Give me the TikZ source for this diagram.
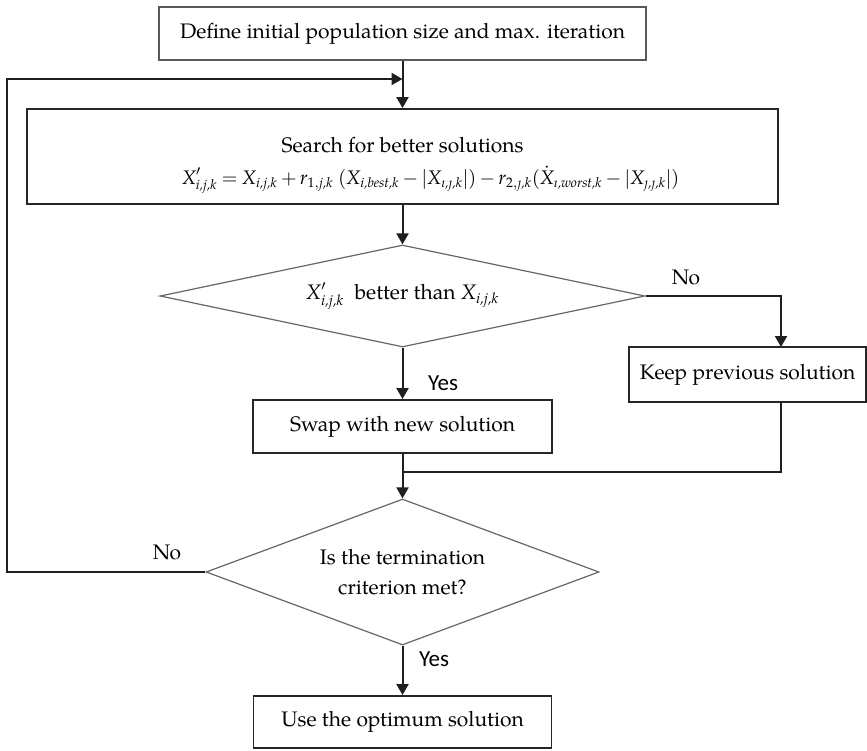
\documentclass[tikz,border=0pt]{standalone}
\usepackage{amstext}
\usepackage{fontspec}
\setmainfont{TeX Gyre Pagella}
\newfontfamily\labelsans{Carlito}
\usetikzlibrary{arrows.meta,shapes.geometric,calc}
% italic variable names set in the text face
\newcommand\mv[1]{\textit{#1}}

\begin{document}
\begin{tikzpicture}[x=0.5pt,y=-0.5pt,
  every node/.style={font=\fontsize{10.5}{15}\selectfont},
  procbox/.style={draw=black!85,line width=0.95pt,rectangle,inner sep=0pt,align=center},
  topbox/.style={draw=black!65,line width=0.75pt,rectangle,inner sep=0pt,align=center},
  decision/.style={draw=black!60,line width=0.6pt,diamond,inner sep=0pt,align=center},
  link/.style={draw=black!88,line width=1pt},
  arr/.style={link,-{Triangle[length=5.5pt,width=6pt]}},
  yeslabel/.style={font=\labelsans\fontsize{11.5}{13}\selectfont,inner sep=0pt},
  nolabel/.style={font=\fontsize{10.5}{13}\selectfont,inner sep=0pt}]

\useasboundingbox (0,0) rectangle (867,750);

% process boxes and decisions
\node[topbox,minimum width=243.5pt,minimum height=26.5pt] (init) at (402.5,33.5)
  {Define initial population size and max. iteration};

\node[procbox,minimum width=375.5pt,minimum height=47.5pt] (search) at (402.5,156.5)
  {\rule{0pt}{16pt}Search for better solutions\\[1pt]
   \fontsize{9.8}{12}\selectfont
   \medmuskip=3mu\thickmuskip=4mu
   \hspace*{28pt}$\mv{X}'_{\mv{i,j,k}}=\mv{X}_{\mv{i,j,k}}+\mv{r}_{\text{1},\mv{j,k}}\ (\mv{X}_{\mv{i,best,k}}-|\mv{X}_{\mv{\i,\j,k}}|)-\mv{r}_{\text{2},\mv{\j,k}}(\dot{\mv{X}}_{\mv{\i,worst,k}}-|\mv{X}_{\mv{\j,\j,k}}|)$};

\node[decision,aspect=4.755,minimum width=242.5pt,minimum height=51pt] (better) at (402.5,296)
  {$\mv{X}'_{\mv{i,j,k}}$\ \ better than $\mv{X}_{\mv{i,j,k}}$};

\node[procbox,minimum width=118.5pt,minimum height=27.5pt] (keep) at (747.5,374.5)
  {Keep previous solution};

\node[procbox,minimum width=149.5pt,minimum height=26.5pt] (swap) at (402.5,426.5)
  {Swap with new solution};

\node[decision,aspect=2.69,minimum width=196.5pt,minimum height=73pt] (stop) at (402.5,572)
  {Is the termination\\criterion met?};

\node[procbox,minimum width=149pt,minimum height=26pt] (final) at (402.5,722)
  {Use the optimum solution};

% junction points on the connectors
\coordinate (join) at (402.5,79);
\coordinate (lx) at (7,572);
\coordinate (kin) at (781,347);
\coordinate (kout) at (781,402);
\coordinate (merge) at (402.5,472);

% connectors
\draw[arr] (init.south) -- (search.north);
\draw[arr] (search.south) -- (better.north);
\draw[arr] (better.south) -- (swap.north);
\draw[arr] (better.east) -| (kin);
\draw[link] (kout) |- (merge);
\draw[arr] (swap.south) -- (stop.north);
\draw[arr] (stop.south) -- (final.north);
\draw[arr] (stop.west) -- (lx) |- (join);

% branch labels
\node[yeslabel] (yes1) at (443,383) {Yes};
\node[yeslabel] (yes2) at (434,659) {Yes};
\node[nolabel] (no1) at (686,277) {No};
\node[nolabel] (no2) at (167,552) {No};

\end{tikzpicture}
\end{document}
